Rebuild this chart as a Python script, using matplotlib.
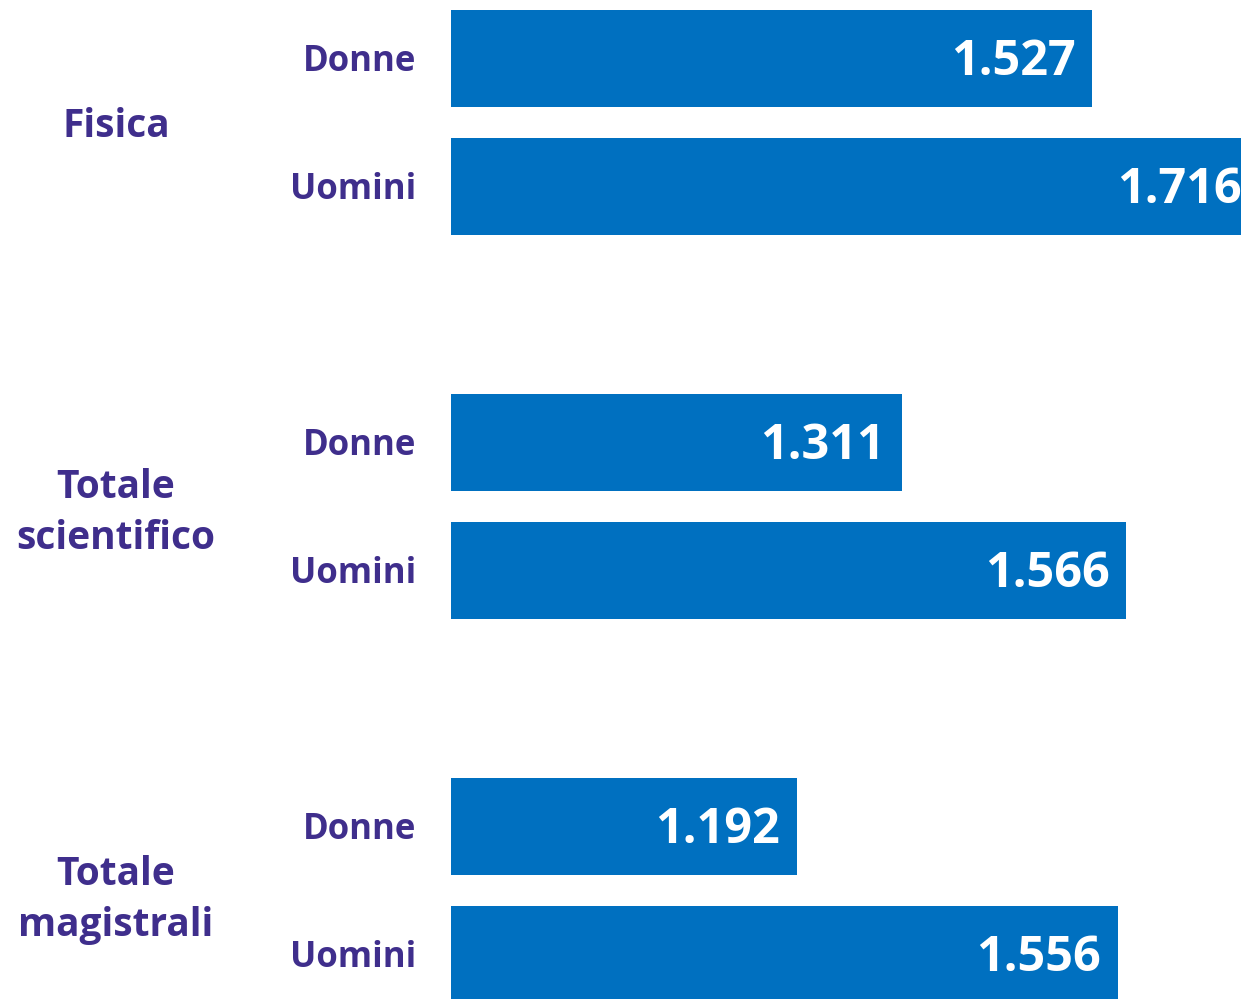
import matplotlib
matplotlib.use("Agg")
import matplotlib.pyplot as plt
from matplotlib.transforms import blended_transform_factory

groups = ["Fisica", "Totale\nscientifico", "Totale\nmagistrali"]
genders = ["Donne", "Uomini"]
donne = [1527, 1311, 1192]
uomini = [1716, 1566, 1556]

bar_color = "#0070C0"
text_color = "#3F2E8C"
font = "Open Sans"

W, H = 1241, 999
fig = plt.figure(figsize=(W / 100, H / 100), dpi=100)
ax = fig.add_axes([451 / W, 0, 790 / W, 1])

positions, values, labels = [], [], []
for i, g in enumerate(groups):
    for j, (lab, v) in enumerate(zip(genders, (donne[i], uomini[i]))):
        positions.append(3 * i + j)
        values.append(v)
        labels.append(lab)

ax.barh(positions, [v - 800 for v in values], left=800, height=0.76,
        color=bar_color, edgecolor="none")
ax.set_xlim(800, 1696)
ax.set_ylim(7.35, -0.457)
ax.axis("off")

trans = blended_transform_factory(ax.transAxes, ax.transData)
for p, v, lab in zip(positions, values, labels):
    ax.annotate(f"{v:,}".replace(",", "."), xy=(v, p), xytext=(-12, -3),
                textcoords="offset points", ha="right", va="center",
                color="white", fontsize=35, fontweight="bold", family=font,
                annotation_clip=False)
    ax.annotate(lab, xy=(0, p), xycoords=trans, xytext=(-25, -2.5),
                textcoords="offset points", ha="right", va="center",
                color=text_color, fontsize=25, fontweight="bold", family=font,
                annotation_clip=False)

gtrans = blended_transform_factory(fig.transFigure, ax.transData)
for i, g in enumerate(groups):
    ax.annotate(g, xy=(116 / W, 3 * i + 0.5), xycoords=gtrans,
                xytext=(0, -3 - 2 * i), textcoords="offset points",
                ha="center", va="center", color=text_color, fontsize=28,
                fontweight="bold", family=font, linespacing=1.4,
                annotation_clip=False)

fig.savefig("out.png", dpi=100)
